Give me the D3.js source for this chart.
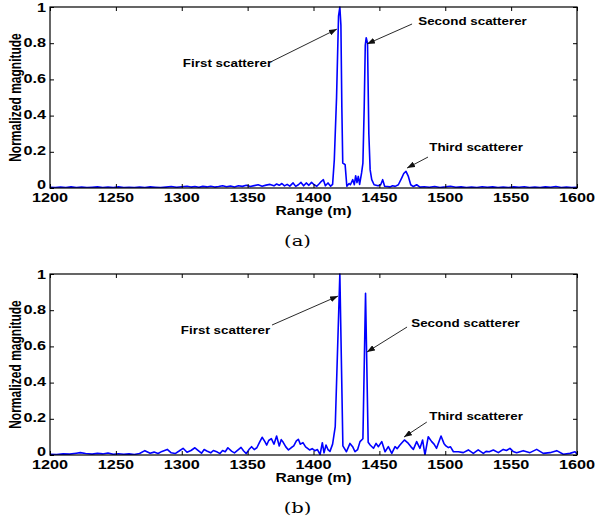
<!DOCTYPE html>
<html>
<head>
<meta charset="utf-8">
<script src="https://cdn.jsdelivr.net/npm/d3@7"></script>
<style>
  body { margin: 0; background: #fff; }
  text { font-family: "Liberation Sans", Arial, sans-serif; }
</style>
</head>
<body>
<svg id="fig" width="595" height="522"></svg>
<script>
// Range profile (a): [range in m, normalized magnitude]
const traceA = [
  [1200,0.004],[1204,0.002],[1208,0.005],[1212,0.003],[1216,0.006],[1220,0.003],[1224,0.005],
  [1228,0.002],[1232,0.004],[1236,0.006],[1240,0.003],[1244,0.005],[1248,0.002],[1252,0.006],
  [1256,0.003],[1260,0.004],[1264,0.002],[1268,0.005],[1272,0.003],[1276,0.006],[1280,0.004],
  [1284,0.002],[1288,0.005],[1292,0.008],[1296,0.004],[1300,0.007],[1304,0.010],[1307,0.005],
  [1310,0.008],[1313,0.004],[1316,0.009],[1319,0.006],[1322,0.010],[1325,0.005],[1328,0.008],
  [1331,0.012],[1334,0.007],[1337,0.011],[1340,0.006],[1343,0.012],[1346,0.009],[1349,0.015],
  [1352,0.008],[1355,0.013],[1358,0.018],[1361,0.010],[1364,0.016],[1367,0.020],[1370,0.012],
  [1372,0.022],[1374,0.015],[1376,0.025],[1378,0.012],[1380,0.020],[1382,0.010],[1384.5,0.028],
  [1386.5,0.009],[1388.5,0.018],[1390.5,0.031],[1392.5,0.012],[1394.5,0.028],[1396.5,0.015],
  [1398.5,0.031],[1400.5,0.018],[1402.5,0.010],[1404.5,0.025],[1406,0.037],[1407.5,0.046],
  [1409,0.012],[1411,0.028],[1413,0.010],[1414.5,0.020],[1415.8,0.157],[1417.5,0.50],
  [1419,0.95],[1420,1.0],[1420.8,0.90],[1421.5,0.45],[1422.2,0.138],[1424,0.129],[1425.3,0.010],
  [1427,0.025],[1428,0.018],[1429.8,0.046],[1431,0.018],[1432,0.068],[1433,0.030],[1434,0.064],
  [1435,0.020],[1436.5,0.083],[1437.5,0.138],[1438.5,0.45],[1439.3,0.79],[1440,0.83],
  [1441,0.80],[1442,0.30],[1443,0.10],[1444.2,0.046],[1446,0.018],[1447.5,0.015],[1449,0.012],
  [1451,0.018],[1452.5,0.046],[1454,0.010],[1456,0.008],[1458,0.006],[1460,0.012],[1462,0.009],
  [1464.4,0.018],[1466.9,0.055],[1468.5,0.080],[1470.2,0.092],[1472,0.064],[1473.8,0.018],
  [1475.8,0.008],[1478.3,0.018],[1480.8,0.005],[1484,0.007],[1488,0.004],[1492,0.008],
  [1496,0.003],[1500,0.006],[1504,0.010],[1508,0.004],[1512,0.006],[1516,0.002],[1520,0.005],
  [1524,0.003],[1528,0.007],[1532,0.004],[1536,0.006],[1540,0.002],[1544,0.005],[1548,0.003],
  [1552,0.006],[1556,0.004],[1560,0.007],[1564,0.003],[1568,0.005],[1572,0.002],[1576,0.006],
  [1580,0.004],[1584,0.008],[1588,0.003],[1592,0.005],[1596,0.002],[1600,0.004]
];

// Range profile (b): [range in m, normalized magnitude]
const traceB = [
  [1200,0.004],[1205,0.003],[1210,0.006],[1215,0.005],[1220,0.010],[1223,0.013],[1227,0.008],
  [1232,0.005],[1236,0.009],[1240,0.006],[1244,0.011],[1248,0.004],[1252,0.007],[1256,0.004],
  [1260,0.006],[1264,0.003],[1268,0.008],[1272,0.024],[1276,0.010],[1279,0.016],[1282,0.008],
  [1285,0.020],[1289,0.031],[1292,0.012],[1295,0.008],[1298,0.022],[1301,0.037],[1304,0.015],
  [1307,0.025],[1310,0.040],[1313,0.022],[1315,0.010],[1317,0.030],[1319,0.022],[1322,0.012],
  [1324,0.025],[1327,0.016],[1329,0.008],[1331,0.025],[1333,0.018],[1335,0.040],[1338,0.020],
  [1340,0.012],[1343,0.030],[1345,0.042],[1347,0.022],[1349,0.008],[1351,0.030],[1353,0.046],
  [1355,0.030],[1357,0.040],[1359,0.070],[1361,0.098],[1363,0.075],[1364.5,0.055],[1366,0.080],
  [1368,0.090],[1370,0.060],[1372,0.105],[1374,0.050],[1375.5,0.085],[1377,0.070],[1379,0.045],
  [1381,0.028],[1383,0.040],[1385,0.050],[1387,0.078],[1388.5,0.087],[1390,0.060],[1392,0.068],
  [1394,0.045],[1397,0.028],[1399,0.035],[1401,0.024],[1403,0.030],[1405,0.002],[1406.7,0.068],
  [1408,0.012],[1409.5,0.055],[1411,0.030],[1412.5,0.020],[1414.5,0.060],[1416.5,0.157],
  [1420,1.0],[1422.3,0.050],[1425,0.018],[1427.7,0.064],[1429.7,0.046],[1431.5,0.018],
  [1433.5,0.030],[1435.3,0.074],[1437.5,0.090],[1439.5,0.893],[1441.5,0.070],[1443,0.055],
  [1445.5,0.037],[1447.5,0.064],[1449.3,0.046],[1451.8,0.074],[1454.3,0.018],[1456.8,0.046],
  [1459.4,0.009],[1461.9,0.046],[1463.5,0.035],[1465.6,0.055],[1469,0.083],[1472,0.064],
  [1474,0.045],[1475.8,0.031],[1478.3,0.074],[1480.8,0.037],[1482.8,0.083],[1484.6,0.000],
  [1487.1,0.101],[1489.7,0.074],[1491.5,0.060],[1493.4,0.037],[1496.8,0.105],[1499,0.064],
  [1500.5,0.050],[1502.4,0.041],[1504,0.045],[1506.2,0.018],[1510,0.018],[1513.7,0.013],
  [1517.5,0.028],[1521.3,0.009],[1525,0.028],[1528.9,0.009],[1531,0.020],[1533.4,0.018],
  [1536.5,0.028],[1540.3,0.013],[1544,0.031],[1546.5,0.025],[1549.1,0.037],[1551.5,0.020],
  [1554.2,0.013],[1559.2,0.024],[1564.3,0.013],[1569.4,0.031],[1574.4,0.009],[1579.5,0.013],
  [1584.6,0.024],[1589.6,0.004],[1594.7,0.009],[1598.5,0.018],[1600,0.005]
];

const xTicks = [1200, 1250, 1300, 1350, 1400, 1450, 1500, 1550, 1600];
const yTicks = [0, 0.2, 0.4, 0.6, 0.8, 1];
const yTickLabels = ["0", "0.2", "0.4", "0.6", "0.8", "1"];
const xLabel = "Range (m)";
const yLabel = "Normalized magnitude";

// Callouts: label centre (tx, ty) and arrow from (x0, y0) to (x1, y1), in data units
const notesA = [
  { label: "First scatterer",  tx: 1334.7, ty: 0.69,  x0: 1368.5, y0: 0.70,  x1: 1417.8, y1: 0.878 },
  { label: "Second scatterer", tx: 1520.7, ty: 0.917, x0: 1474.8, y0: 0.906, x1: 1440.6, y1: 0.796 },
  { label: "Third scatterer",  tx: 1523.4, ty: 0.226, x0: 1486.9, y0: 0.171, x1: 1471.0, y1: 0.110 }
];
const notesB = [
  { label: "First scatterer",  tx: 1333.2, ty: 0.69,  x0: 1368.5, y0: 0.718, x1: 1418.6, y1: 0.878 },
  { label: "Second scatterer", tx: 1515.4, ty: 0.724, x0: 1471.0, y0: 0.707, x1: 1440.6, y1: 0.569 },
  { label: "Third scatterer",  tx: 1523.4, ty: 0.215, x0: 1486.0, y0: 0.182, x1: 1468.7, y1: 0.099 }
];

const panels = [
  { trace: traceA, notes: notesA, top: 7,   bottom: 188, caption: "(a)", capY: 241 },
  { trace: traceB, notes: notesB, top: 274, bottom: 455, caption: "(b)", capY: 508 }
];

const W = 595, left = 50, right = 577;
const SX = 1.3;           // horizontal text widening
const BLUE = "#0000ff";

const svg = d3.select("#fig");
const defs = svg.append("defs");
defs.append("marker")
  .attr("id", "arrowhead")
  .attr("viewBox", "0 0 8 6")
  .attr("refX", 8).attr("refY", 3)
  .attr("markerWidth", 8).attr("markerHeight", 6)
  .attr("markerUnits", "userSpaceOnUse")
  .attr("orient", "auto")
  .append("path").attr("d", "M0,0 L8,3 L0,6 Z").attr("fill", "#111");

const x = d3.scaleLinear().domain([1200, 1600]).range([left, right]);

function wideText(g, px, py, str, size, anchor, weight, family) {
  return g.append("text")
    .attr("transform", `translate(${px},${py}) scale(${SX},1)`)
    .attr("text-anchor", anchor)
    .attr("dominant-baseline", "central")
    .style("font-size", size + "px")
    .style("font-weight", weight || "bold")
    .style("font-family", family || null)
    .attr("fill", "#000")
    .text(str);
}

panels.forEach((p, i) => {
  const y = d3.scaleLinear().domain([0, 1]).range([p.bottom, p.top]);
  const g = svg.append("g");

  const clipId = "clip" + i;
  defs.append("clipPath").attr("id", clipId)
    .append("rect").attr("x", left).attr("y", p.top - 1)
    .attr("width", right - left).attr("height", p.bottom - p.top + 1);

  // profile
  g.append("path")
    .datum(p.trace)
    .attr("clip-path", `url(#${clipId})`)
    .attr("fill", "none")
    .attr("stroke", BLUE)
    .attr("stroke-width", 1.6)
    .attr("stroke-linejoin", "round")
    .attr("d", d3.line().x(d => x(d[0])).y(d => y(d[1])));

  // ticks on all four sides, pointing inward
  const tick = 4;
  const axB = g.append("g").attr("transform", `translate(0,${p.bottom})`)
    .call(d3.axisBottom(x).tickValues(xTicks).tickSizeInner(-tick).tickSizeOuter(0).tickPadding(0).tickFormat(() => ""));
  const axT = g.append("g").attr("transform", `translate(0,${p.top})`)
    .call(d3.axisTop(x).tickValues(xTicks).tickSizeInner(-tick).tickSizeOuter(0).tickFormat(() => ""));
  const axL = g.append("g").attr("transform", `translate(${left},0)`)
    .call(d3.axisLeft(y).tickValues(yTicks).tickSizeInner(-tick).tickSizeOuter(0).tickFormat(() => ""));
  const axR = g.append("g").attr("transform", `translate(${right},0)`)
    .call(d3.axisRight(y).tickValues(yTicks).tickSizeInner(-tick).tickSizeOuter(0).tickFormat(() => ""));
  [axB, axT, axL, axR].forEach(a => {
    a.select(".domain").remove();
    a.selectAll(".tick line").attr("stroke", "#000").attr("stroke-width", 1);
  });

  // frame
  g.append("rect")
    .attr("x", left).attr("y", p.top)
    .attr("width", right - left).attr("height", p.bottom - p.top)
    .attr("fill", "none").attr("stroke", "#000").attr("stroke-width", 1.2);

  // tick labels; the end labels are nudged inward so they clear the edge and the x labels
  xTicks.forEach(v => wideText(g, x(v), p.bottom + 10, String(v), 12.5, "middle"));
  yTicks.forEach((v, k) => {
    const nudge = v === 0 ? -3 : (v === 1 ? 1 : -1);
    wideText(g, left - 4, y(v) + nudge, yTickLabels[k], 12.5, "end");
  });

  // axis titles
  wideText(g, (left + right) / 2, p.bottom + 23, xLabel, 12, "middle");
  g.append("text")
    .attr("transform", `translate(15,${(p.top + p.bottom) / 2}) rotate(-90) scale(1,${SX})`)
    .attr("text-anchor", "middle")
    .attr("dominant-baseline", "central")
    .style("font-size", "12px")
    .style("font-weight", "bold")
    .text(yLabel);

  // callouts
  p.notes.forEach(n => {
    g.append("line")
      .attr("x1", x(n.x0)).attr("y1", y(n.y0))
      .attr("x2", x(n.x1)).attr("y2", y(n.y1))
      .attr("stroke", "#111").attr("stroke-width", 0.9)
      .attr("marker-end", "url(#arrowhead)");
    wideText(g, x(n.tx), y(n.ty), n.label, 10.3, "middle");
  });

  // caption
  wideText(svg, W / 2, p.capY, p.caption, 15, "middle", "normal", "'DejaVu Serif', 'Liberation Serif', serif");
});
</script>
</body>
</html>
